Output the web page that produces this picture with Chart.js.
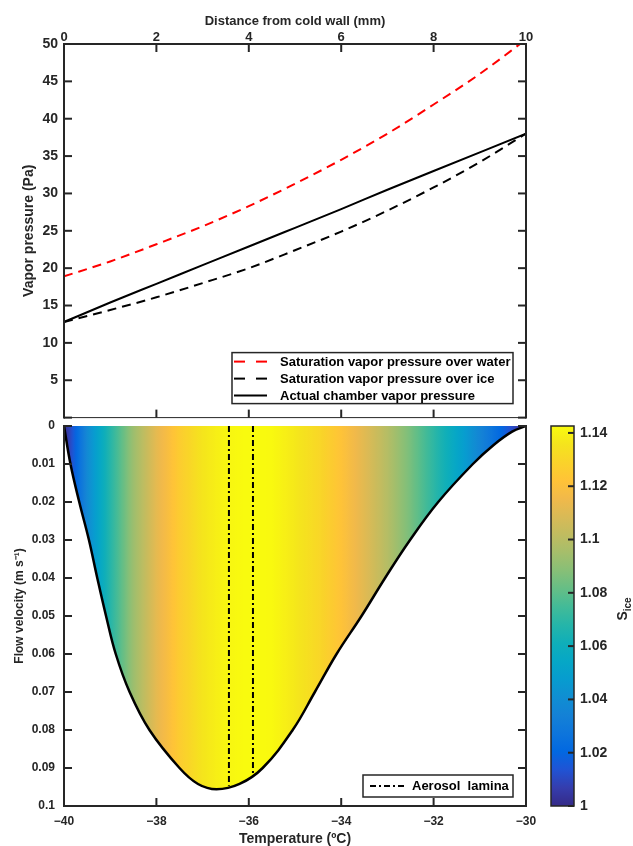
<!DOCTYPE html>
<html>
<head>
<meta charset="utf-8">
<script src="https://cdn.jsdelivr.net/npm/chart.js@4.4.1/dist/chart.umd.min.js"></script>
<style>
  html, body { margin: 0; padding: 0; background: #fff; }
  #wrap { position: relative; width: 633px; height: 846px; overflow: hidden; }
  #wrap canvas { position: absolute; }
</style>
</head>
<body>
<div id="wrap">
  <canvas id="cTop" width="633" height="432" style="left:0;top:0"></canvas>
  <canvas id="cBot" width="633" height="446" style="left:0;top:400px"></canvas>
  <canvas id="cBar" width="103" height="446" style="left:530px;top:400px"></canvas>
</div>
<script>
// ---- top panel: vapor pressure across the gap ----
const distanceMm   = [0, 1, 2, 3, 4, 5, 6, 7, 8, 9, 10];
const satOverWater = [18.9, 20.9, 23.2, 25.6, 28.3, 31.3, 34.5, 38.0, 41.9, 46.0, 50.6];
const satOverIce   = [12.8, 14.4, 16.1, 18.0, 20.0, 22.4, 24.9, 27.7, 30.8, 34.2, 38.0];
const chamberP     = [12.8, 15.4, 17.9, 20.4, 22.9, 25.4, 27.9, 30.5, 33.0, 35.5, 38.0];

// ---- bottom panel: flow profile vs temperature ----
const profileTemp = [-40, -39.86, -39.67, -39.46, -39.28, -39.09, -38.88, -38.58, -38.15, -37.5,
                     -37.1, -36.7, -36.2, -35.7, -35.05, -34.57, -34.1, -33.56, -33.05, -32.51,
                     -31.9, -31.15, -30.7, -30.3, -30];
const profileVel  = [0, 0.01, 0.02, 0.03, 0.04, 0.05, 0.06, 0.07, 0.08, 0.09,
                     0.0942, 0.0956, 0.0942, 0.09, 0.08, 0.07, 0.06, 0.05, 0.04, 0.03,
                     0.02, 0.01, 0.005, 0.0015, 0];
const laminaTemp  = [-36.43, -35.91];
const laminaDepth = [0.0947, 0.0915];

// ---- ice saturation ratio (colour of the fill) ----
const sTemp = [-40, -39.5, -39, -38.5, -38, -37.5, -37, -36.5, -36, -35.5, -35,
               -34.5, -34, -33.5, -33, -32.5, -32, -31.5, -31, -30.5, -30];
const sIce  = [1.000, 1.038, 1.068, 1.093, 1.112, 1.126, 1.136, 1.141, 1.143, 1.142, 1.137,
               1.131, 1.122, 1.111, 1.099, 1.085, 1.070, 1.054, 1.036, 1.019, 1.000];
const sRange = [1, 1.1426];

// ---- tick labels ----
const distanceTicks = [0, 2, 4, 6, 8, 10];
const pressureTicks = [0, 5, 10, 15, 20, 25, 30, 35, 40, 45, 50];
const tempTicks     = [-40, -38, -36, -34, -32, -30];
const velocityTicks = [0, 0.01, 0.02, 0.03, 0.04, 0.05, 0.06, 0.07, 0.08, 0.09, 0.1];
const sTicks        = [1, 1.02, 1.04, 1.06, 1.08, 1.1, 1.12, 1.14];

const FONT = '"Liberation Sans", Arial, Helvetica, sans-serif';
const INK = '#262626';
const f = (size, lineHeight) => ({ family: FONT, size, weight: 'bold', lineHeight: lineHeight || 1.2 });

// parula, every 3rd entry of the 64-colour table
const PARULA = [
  [0.2081,0.1663,0.5292],[0.2081,0.2386,0.6771],[0.1253,0.3242,0.8303],[0.0060,0.4086,0.8828],
  [0.0498,0.4586,0.8641],[0.0779,0.5040,0.8384],[0.0641,0.5570,0.8240],[0.0265,0.6137,0.8135],
  [0.0228,0.6535,0.7768],[0.0590,0.6838,0.7254],[0.1453,0.7098,0.6646],[0.2586,0.7317,0.5954],
  [0.3953,0.7459,0.5244],[0.5300,0.7491,0.4661],[0.6473,0.7456,0.4188],[0.7525,0.7384,0.3768],
  [0.8507,0.7299,0.3360],[0.9450,0.7261,0.2886],[0.9990,0.7653,0.2164],[0.9789,0.8271,0.1633],
  [0.9589,0.8949,0.1132],[0.9763,0.9831,0.0538]
];
function parula(fr) {
  fr = Math.max(0, Math.min(1, fr)) * (PARULA.length - 1);
  const i = Math.min(PARULA.length - 2, Math.floor(fr)), t = fr - i;
  const c = PARULA[i].map((v, k) => Math.round(255 * (v + (PARULA[i + 1][k] - v) * t)));
  return `rgb(${c[0]},${c[1]},${c[2]})`;
}
function sAt(T) {
  for (let i = 0; i < sTemp.length - 1; i++) {
    if (T <= sTemp[i + 1]) return sIce[i] + (sIce[i + 1] - sIce[i]) * (T - sTemp[i]) / (sTemp[i + 1] - sTemp[i]);
  }
  return sIce[sIce.length - 1];
}

// gradient for the filled profile, left to right along temperature
function fillGradient(chart) {
  const x = chart.scales.x;
  if (!chart.chartArea || !x) return '#ffd84a';
  const t0 = sTemp[0], t1 = sTemp[sTemp.length - 1];
  const g = chart.ctx.createLinearGradient(x.getPixelForValue(t0), 0, x.getPixelForValue(t1), 0);
  for (let k = 0; k <= 200; k++) {
    const T = t0 + (t1 - t0) * k / 200;
    g.addColorStop(k / 200, parula((sAt(T) - sRange[0]) / (sRange[1] - sRange[0])));
  }
  return g;
}
function barGradient(chart) {
  const a = chart.chartArea;
  if (!a) return '#888';
  const g = chart.ctx.createLinearGradient(0, a.bottom, 0, a.top);
  PARULA.forEach((c, i) => g.addColorStop(i / (PARULA.length - 1), parula(i / (PARULA.length - 1))));
  return g;
}

const fixedTicks = list => scale => { scale.ticks = list.map(v => ({ value: v })); };
const num = v => (v < 0 ? '\u2212' : '') + String(+Math.abs(Number(v)).toFixed(2));
const pts = (xs, ys) => xs.map((x, i) => ({ x, y: ys[i] }));

// MATLAB-like box with inward ticks
const boxPlugin = {
  id: 'mbox',
  afterDatasetsDraw(chart, args, opts) {
    const { ctx, chartArea: a } = chart;
    ctx.save();
    ctx.strokeStyle = INK;
    (opts.edges || []).forEach(e => {
      ctx.lineWidth = e.width;
      ctx.lineCap = 'square';
      ctx.beginPath();
      if (e.side === 'left' || e.side === 'right') { ctx.moveTo(a[e.side], a.top); ctx.lineTo(a[e.side], a.bottom); }
      else { ctx.moveTo(a.left, a[e.side]); ctx.lineTo(a.right, a[e.side]); }
      ctx.stroke();
      if (!e.scale) return;
      const sc = chart.scales[e.scale], L = e.len || 8;
      ctx.lineWidth = 2;
      ctx.lineCap = 'butt';
      sc.ticks.forEach(t => {
        const p = sc.getPixelForValue(t.value);
        ctx.beginPath();
        if (e.side === 'left')   { ctx.moveTo(a.left, p);   ctx.lineTo(a.left + L, p); }
        if (e.side === 'right')  { ctx.moveTo(a.right, p);  ctx.lineTo(a.right - L, p); }
        if (e.side === 'top')    { ctx.moveTo(p, a.top);    ctx.lineTo(p, a.top + L); }
        if (e.side === 'bottom') { ctx.moveTo(p, a.bottom); ctx.lineTo(p, a.bottom - L); }
        ctx.stroke();
      });
    });
    ctx.restore();
  }
};

// framed legend in the lower right corner of the plot area
const legendPlugin = {
  id: 'boxLegend',
  afterDraw(chart, args, o) {
    if (!o.items) return;
    const { ctx, chartArea: a } = chart;
    const x = a.right - o.right - o.w, y = a.bottom - o.bottom - o.h;
    ctx.save();
    ctx.fillStyle = '#fff';
    ctx.fillRect(x, y, o.w, o.h);
    ctx.strokeStyle = INK;
    ctx.lineWidth = 1.5;
    ctx.strokeRect(x, y, o.w, o.h);
    o.items.forEach((it, i) => {
      const ds = chart.data.datasets[it];
      const ry = y + o.row0 + i * o.rowGap;
      ctx.strokeStyle = ds.borderColor;
      ctx.lineWidth = 2;
      ctx.setLineDash(o.dash[i]);
      ctx.beginPath();
      ctx.moveTo(x + o.s0, ry);
      ctx.lineTo(x + o.s1, ry);
      ctx.stroke();
      ctx.setLineDash([]);
      ctx.fillStyle = '#000';
      ctx.font = `bold 13px ${FONT}`;
      ctx.textBaseline = 'middle';
      ctx.fillText(ds.label, x + o.tx, ry + 0.5);
    });
    ctx.restore();
  }
};

// border, ticks and subscripted title of the colour bar
const cbarPlugin = {
  id: 'cbar',
  afterDraw(chart) {
    const { ctx, chartArea: a } = chart;
    const sc = chart.scales.y;
    ctx.save();
    ctx.strokeStyle = INK;
    ctx.lineWidth = 1.5;
    ctx.strokeRect(a.left, a.top, a.right - a.left, a.bottom - a.top);
    ctx.lineWidth = 2;
    sc.ticks.forEach(t => {
      const p = sc.getPixelForValue(t.value);
      ctx.beginPath(); ctx.moveTo(a.right, p); ctx.lineTo(a.right - 6, p); ctx.stroke();
    });
    ctx.translate(97, 209);
    ctx.rotate(-Math.PI / 2);
    ctx.fillStyle = INK;
    ctx.font = `bold 14px ${FONT}`;
    const wS = ctx.measureText('S').width;
    ctx.font = `bold 10px ${FONT}`;
    const wI = ctx.measureText('ice').width;
    const x0 = -(wS + wI) / 2;
    ctx.textBaseline = 'alphabetic';
    ctx.font = `bold 14px ${FONT}`;
    ctx.fillText('S', x0, 0);
    ctx.font = `bold 10px ${FONT}`;
    ctx.fillText('ice', x0 + wS, 4);
    ctx.restore();
  }
};

const noGrid = { display: false, drawTicks: false };
const noBorder = { display: false };

// ---------------- top chart ----------------
new Chart(document.getElementById('cTop'), {
  type: 'line',
  data: {
    datasets: [
      { label: 'Saturation vapor pressure over water', data: pts(distanceMm, satOverWater),
        borderColor: '#ff0000', borderDash: [9, 6], borderWidth: 2, clip: 0 },
      { label: 'Saturation vapor pressure over ice', data: pts(distanceMm, satOverIce),
        borderColor: '#000000', borderDash: [9, 6], borderWidth: 2 },
      { label: 'Actual chamber vapor pressure', data: pts(distanceMm, chamberP),
        borderColor: '#000000', borderWidth: 2 }
    ]
  },
  options: {
    responsive: false, animation: false,
    layout: { padding: { left: 0, right: 107, top: 0, bottom: 6 } },
    elements: { point: { radius: 0 }, line: { cubicInterpolationMode: 'monotone', fill: false } },
    plugins: {
      legend: { display: false }, tooltip: { enabled: false },
      mbox: { edges: [
        { side: 'left', width: 2, scale: 'y' }, { side: 'right', width: 2, scale: 'y' },
        { side: 'top', width: 2, scale: 'x' }, { side: 'bottom', width: 1, scale: 'x' }
      ] },
      boxLegend: { items: [0, 1, 2], w: 281, h: 51, right: 13, bottom: 14,
        row0: 9, rowGap: 17, s0: 2, s1: 35, tx: 48, dash: [[11, 11], [11, 11], []] }
    },
    scales: {
      x: {
        type: 'linear', position: 'top', min: 0, max: 10,
        afterBuildTicks: fixedTicks(distanceTicks),
        grid: noGrid, border: noBorder,
        ticks: { font: f(13, 1), color: INK, padding: 0, maxRotation: 0, callback: v => num(v) },
        title: { display: true, text: 'Distance from cold wall (mm)', font: f(13), color: INK, padding: { top: 14, bottom: 0 } },
        afterFit: s => { s.height = 44; }
      },
      y: {
        min: 0, max: 50,
        afterBuildTicks: fixedTicks(pressureTicks),
        grid: noGrid, border: noBorder,
        ticks: { font: f(14), color: INK, padding: 6, callback: v => v === 0 ? '' : num(v) },
        title: { display: true, text: 'Vapor pressure (Pa)', font: f(14), color: INK, padding: { top: 21, bottom: 0 } },
        afterFit: s => { s.width = 64; }
      }
    }
  },
  plugins: [boxPlugin, legendPlugin]
});

// ---------------- bottom chart ----------------
new Chart(document.getElementById('cBot'), {
  type: 'line',
  data: {
    datasets: [
      { label: 'Velocity profile', data: pts(profileTemp, profileVel), order: 2,
        borderColor: '#000000', borderWidth: 2.5, fill: 'origin', tension: 0.4,
        backgroundColor: c => fillGradient(c.chart) },
      { label: 'Aerosol  lamina', data: [{ x: laminaTemp[0], y: 0 }, { x: laminaTemp[0], y: laminaDepth[0] }],
        order: 1, borderColor: '#000000', borderWidth: 2, borderDash: [6, 3, 2, 3], fill: false },
      { label: 'Aerosol  lamina', data: [{ x: laminaTemp[1], y: 0 }, { x: laminaTemp[1], y: laminaDepth[1] }],
        order: 1, borderColor: '#000000', borderWidth: 2, borderDash: [6, 3, 2, 3], fill: false }
    ]
  },
  options: {
    responsive: false, animation: false,
    layout: { padding: { left: 0, right: 107, top: 26, bottom: 0 } },
    elements: { point: { radius: 0 } },
    plugins: {
      legend: { display: false }, tooltip: { enabled: false },
      mbox: { edges: [
        { side: 'left', width: 2, scale: 'y' }, { side: 'right', width: 2, scale: 'y' },
        { side: 'bottom', width: 2, scale: 'x' }
      ] },
      boxLegend: { items: [1], w: 150, h: 22, right: 13, bottom: 9,
        row0: 11, rowGap: 0, s0: 7, s1: 42, tx: 49, dash: [[6, 3, 2, 3]] }
    },
    scales: {
      x: {
        type: 'linear', position: 'bottom', min: -40, max: -30,
        afterBuildTicks: fixedTicks(tempTicks),
        grid: noGrid, border: noBorder,
        ticks: { font: f(12), color: INK, padding: 8, maxRotation: 0, callback: v => num(v) },
        title: { display: true, text: 'Temperature (ºC)', font: f(14, 1), color: INK, padding: { top: 0, bottom: 0 } },
        afterFit: s => { s.height = 40; }
      },
      y: {
        min: 0, max: 0.1, reverse: true,
        afterBuildTicks: fixedTicks(velocityTicks),
        grid: noGrid, border: noBorder,
        ticks: { font: f(12), color: INK, padding: 9, callback: v => num(v) },
        title: { display: true, text: '      Flow velocity (m s⁻¹)', font: f(12), color: INK, padding: { top: 12, bottom: 0 } },
        afterFit: s => { s.width = 64; }
      }
    }
  },
  plugins: [boxPlugin, legendPlugin]
});

// ---------------- colour bar ----------------
new Chart(document.getElementById('cBar'), {
  type: 'bar',
  data: {
    labels: ['S_ice'],
    datasets: [{ data: [[sRange[0], sRange[1]]], backgroundColor: c => barGradient(c.chart),
      borderWidth: 0, barPercentage: 1, categoryPercentage: 1 }]
  },
  options: {
    responsive: false, animation: false,
    layout: { padding: { left: 21, right: 0, top: 26, bottom: 40 } },
    plugins: { legend: { display: false }, tooltip: { enabled: false } },
    scales: {
      x: { display: false },
      y: {
        position: 'right', min: sRange[0], max: sRange[1],
        afterBuildTicks: fixedTicks(sTicks),
        grid: noGrid, border: noBorder,
        ticks: { font: f(14), color: INK, padding: 6, callback: v => num(v) },
        afterFit: s => { s.width = 59; }
      }
    }
  },
  plugins: [cbarPlugin]
});
</script>
</body>
</html>
